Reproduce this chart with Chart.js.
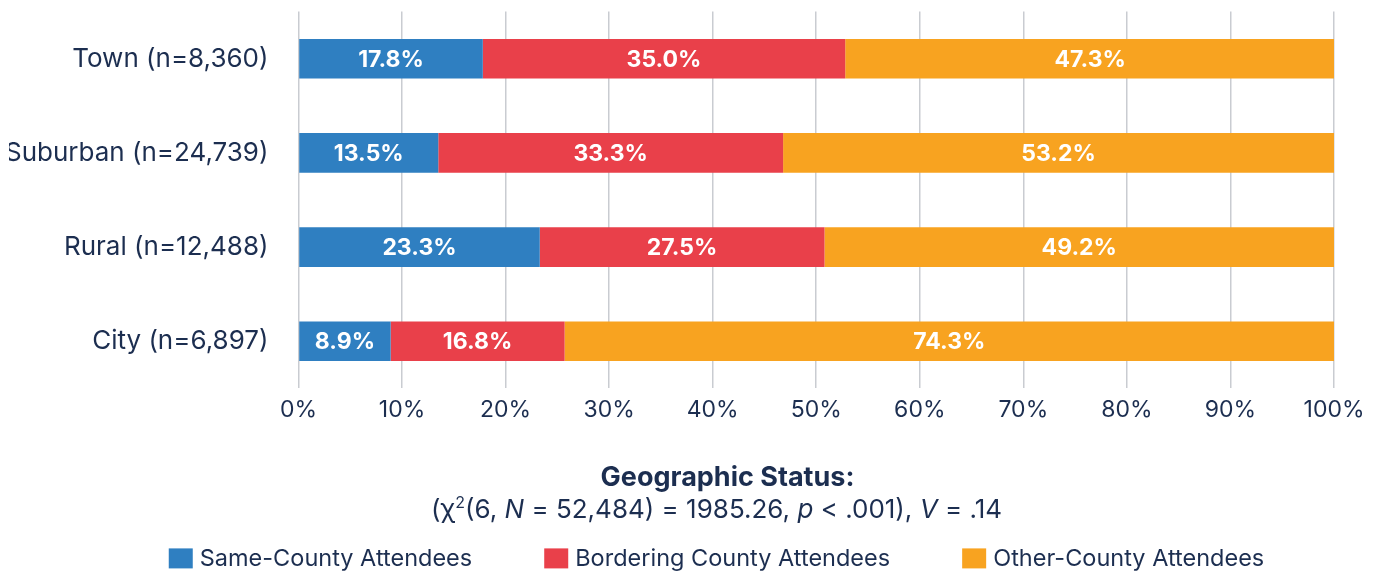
<!DOCTYPE html>
<html>
<head>
<meta charset="utf-8">
<script src="https://cdn.jsdelivr.net/npm/chart.js@4.4.1/dist/chart.umd.min.js"></script>
<style>
  html, body { margin: 0; padding: 0; background: #fff; }
  canvas { display: block; }
</style>
</head>
<body>
<canvas id="chart" width="1375" height="574"></canvas>
<script>
const categories = ['Town (n=8,360)', 'Suburban (n=24,739)', 'Rural (n=12,488)', 'City (n=6,897)'];
const seriesNames = ['Same-County Attendees', 'Bordering County Attendees', 'Other-County Attendees'];
const sameCounty = [17.8, 13.5, 23.3, 8.9];
const borderingCounty = [35.0, 33.3, 27.5, 16.8];
const otherCounty = [47.3, 53.2, 49.2, 74.3];
const titleText = 'Geographic Status:';
// pieces of the stats line: plain, superscript or italic
const subtitleParts = [
  { text: '(χ' }, { text: '2', sup: true }, { text: '(6, ' }, { text: 'N', italic: true },
  { text: ' = 52,484) = 1985.26, ' }, { text: 'p', italic: true }, { text: ' < .001), ' },
  { text: 'V', italic: true }, { text: ' = .14' }
];

const FONT = 'Inter, "Noto Sans", sans-serif';
const INK = '#1c2e50';
const colors = ['#2f7fc1', '#e9404a', '#f8a320'];
const seriesData = [sameCounty, borderingCounty, otherCounty];

const barLabels = {
  id: 'barLabels',
  afterDatasetsDraw(chart) {
    const ctx = chart.ctx;
    ctx.save();
    ctx.font = 'bold 23px ' + FONT;
    ctx.fillStyle = '#fff';
    ctx.textAlign = 'center';
    ctx.textBaseline = 'middle';
    chart.data.datasets.forEach((ds, i) => {
      chart.getDatasetMeta(i).data.forEach((bar, j) => {
        const p = bar.getCenterPoint();
        ctx.fillText(ds.data[j].toFixed(1) + '%', p.x, p.y + 1);
      });
    });
    ctx.restore();
  }
};

// title, stats line and legend under the axis
const footer = {
  id: 'footer',
  afterDraw(chart) {
    const ctx = chart.ctx;
    const cx = chart.width / 2 + 29;
    const base = chart.chartArea.bottom;
    ctx.save();
    ctx.fillStyle = INK;
    ctx.textBaseline = 'alphabetic';

    ctx.font = 'bold 27px ' + FONT;
    ctx.textAlign = 'center';
    ctx.fillText(titleText, cx + 11, base + 98);

    const fontFor = p => (p.italic ? 'italic ' : '') + (p.sup ? '16px ' : '26px ') + FONT;
    let total = 0;
    subtitleParts.forEach(p => { ctx.font = fontFor(p); total += ctx.measureText(p.text).width; });
    let x = cx - total / 2;
    ctx.textAlign = 'left';
    subtitleParts.forEach(p => {
      ctx.font = fontFor(p);
      ctx.fillText(p.text, x, base + 130 - (p.sup ? 10 : 0));
      x += ctx.measureText(p.text).width;
    });

    ctx.font = '23.5px ' + FONT;
    const boxW = 24, boxH = 20, gap = 7, spacing = 72;
    const widths = seriesNames.map(n => boxW + gap + ctx.measureText(n).width);
    const legendW = widths.reduce((a, b) => a + b, 0) + spacing * (widths.length - 1);
    x = cx - legendW / 2;
    seriesNames.forEach((n, i) => {
      ctx.fillStyle = colors[i];
      ctx.fillRect(x, base + 160, boxW, boxH);
      ctx.fillStyle = INK;
      ctx.fillText(n, x + boxW + gap, base + 178);
      x += widths[i] + spacing;
    });
    ctx.restore();
  }
};

new Chart(document.getElementById('chart'), {
  type: 'bar',
  data: {
    labels: categories,
    datasets: seriesNames.map((name, i) => ({
      label: name,
      data: seriesData[i],
      backgroundColor: colors[i],
      borderWidth: 0,
      barPercentage: 1,
      categoryPercentage: 0.42
    }))
  },
  options: {
    responsive: false,
    animation: false,
    indexAxis: 'y',
    layout: { padding: { left: 9, right: 41, top: 0, bottom: 142 } },
    plugins: {
      legend: { display: false },
      tooltip: { enabled: false }
    },
    scales: {
      x: {
        stacked: true,
        min: 0,
        max: 100,
        ticks: {
          stepSize: 10,
          padding: 8,
          color: INK,
          font: { family: FONT, size: 23 },
          callback: v => v + '%'
        },
        grid: { color: '#c9ccd1', lineWidth: 1.5, drawTicks: false },
        border: { display: false }
      },
      y: {
        stacked: true,
        ticks: {
          padding: -4,
          color: INK,
          font: { family: FONT, size: 26 }
        },
        grid: { display: false, drawTicks: true, tickLength: 34 },
        border: { display: false }
      }
    }
  },
  plugins: [barLabels, footer]
});
</script>
</body>
</html>
